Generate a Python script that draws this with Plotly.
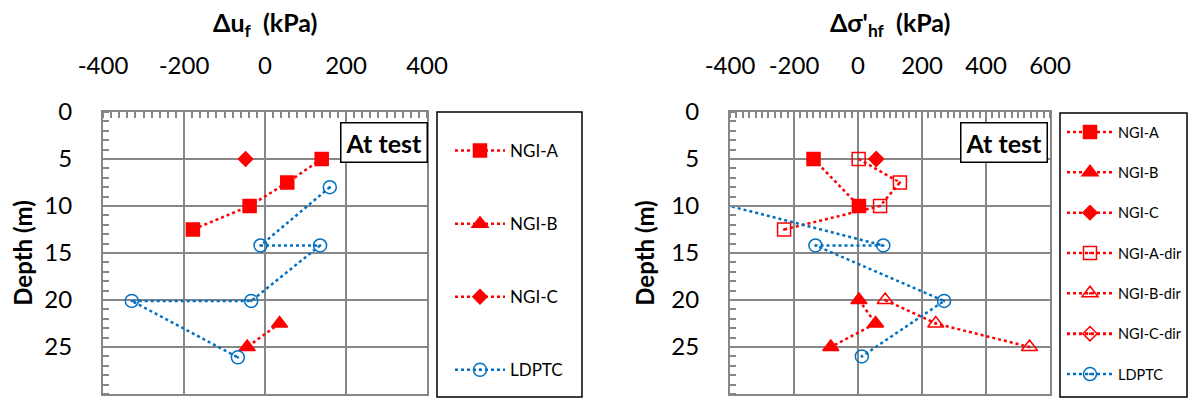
import plotly.graph_objects as go

# Datos (profundidad en m, presiones en kPa)
ngi_a_depth = [5, 7.5, 10, 12.5]
ngi_b_depth = [22.5, 25]
ngi_b_depth_s = [20, 22.5, 25]
ngi_c_depth = [5]
ldptc_depth_u = [8, 14.2, 14.2, 20.1, 20.1, 26.1]
ldptc_depth_s = [8, 14.2, 14.2, 20.1, 26]
ngi_a_dir_depth = [5, 7.5, 10, 12.5]
ngi_b_dir_depth = [20, 22.5, 25]

# Panel izquierdo: delta u_f
du_ngi_a = [140, 55, -38, -178]
du_ngi_b = [36, -44]
du_ngi_c = [-48]
du_ldptc = [160, -11, 136, -34, -329, -67]

# Panel derecho: delta sigma'_hf
ds_ngi_a = [-139, 3]
ds_ngi_a_depth = [5, 10]
ds_ngi_b = [3, 55, -85]
ds_ngi_c = [57]
ds_ngi_a_dir = [2, 131, 69, -231]
ds_ngi_b_dir = [85, 243, 536]
ds_ngi_c_dir = [57]
ds_ldptc = [-630, 79, -133, 269, 12]

# Ticks
u_ticks = [-400, -200, 0, 200, 400]
s_ticks = [-400, -200, 0, 200, 400, 600]
depth_ticks = [0, 5, 10, 15, 20, 25, 30]

RED = "#FF0000"
BLUE = "#0070C0"
GRID = "#878787"
FONT = "Lato"

# el body de la página tiene 8 px de margen: figura más pequeña para que quepa sin scroll
OFF = 8
W, H = 1196 - 2 * OFF, 406 - 2 * OFF


def fx(px):
    return (px - OFF) / W


def fy(py):
    return 1 - (py - OFF) / H


fig = go.Figure()


def serie(x, y, name, color, symbol, size, xa, ya, legend, width=2.5):
    fig.add_trace(go.Scatter(
        x=x, y=y, name=name, mode="lines+markers",
        xaxis=xa, yaxis=ya, legend=legend, legendgroup=legend + name,
        line=dict(color=color, width=width, dash="dot"),
        marker=dict(symbol=symbol, size=size, color=color,
                    line=dict(color=color, width=1.5)),
    ))


# Izquierda
serie(du_ngi_a, ngi_a_depth, "NGI-A", RED, "square", 13, "x", "y", "legend")
serie(du_ngi_b, ngi_b_depth, "NGI-B", RED, "triangle-up", 14, "x", "y", "legend")
serie(du_ngi_c, ngi_c_depth, "NGI-C", RED, "diamond", 11, "x", "y", "legend")
serie(du_ldptc, ldptc_depth_u, "LDPTC", BLUE, "circle-open-dot", 13, "x", "y", "legend")

# Derecha
serie(ds_ngi_a, ds_ngi_a_depth, "NGI-A", RED, "square", 13, "x2", "y2", "legend2")
serie(ds_ngi_b, ngi_b_depth_s, "NGI-B", RED, "triangle-up", 14, "x2", "y2", "legend2")
serie(ds_ngi_c, ngi_c_depth, "NGI-C", RED, "diamond", 11, "x2", "y2", "legend2")
serie(ds_ngi_a_dir, ngi_a_dir_depth, "NGI-A-dir", RED, "square-open-dot", 13, "x2", "y2", "legend2")
serie(ds_ngi_b_dir, ngi_b_dir_depth, "NGI-B-dir", RED, "triangle-up-open-dot", 14, "x2", "y2", "legend2")
serie(ds_ngi_c_dir, ngi_c_depth, "NGI-C-dir", RED, "diamond-open-dot", 11, "x2", "y2", "legend2", width=3)
serie(ds_ldptc, ldptc_depth_s, "LDPTC", BLUE, "circle-open-dot", 13, "x2", "y2", "legend2")

ydom = [fy(394), fy(112)]
tickfont = dict(family=FONT, size=24, color="black")

xcommon = dict(
    side="top", showgrid=True, gridcolor=GRID, gridwidth=1.5,
    showline=True, linecolor=GRID, linewidth=2, mirror=True, automargin=False,
    ticks="", minor=dict(dtick=20, ticks="inside", ticklen=6, tickcolor=GRID, tickwidth=1.5),
    tickfont=tickfont, ticklabelstandoff=26, zeroline=False,
)
ycommon = dict(
    range=[30, 0], tickvals=depth_ticks, ticktext=[str(v) for v in depth_ticks],
    showgrid=True, gridcolor=GRID, gridwidth=1.5,
    showline=True, linecolor=GRID, linewidth=2, mirror=True, automargin=False,
    ticks="", minor=dict(dtick=1, ticks="inside", ticklen=6, tickcolor=GRID, tickwidth=1.5),
    tickfont=tickfont, ticklabelstandoff=24,
    zeroline=False, domain=ydom,
    title=dict(text="<b>Depth (m)</b>", font=dict(family=FONT, size=24, color="black"), standoff=10),
)

fig.update_layout(
    width=W, height=H, margin=dict(l=0, r=0, t=0, b=0),
    plot_bgcolor="white", paper_bgcolor="white",
    font=dict(family=FONT, color="black"),
    xaxis=dict(xcommon, range=[-400, 400], domain=[fx(103), fx(427)], anchor="y",
               tickvals=u_ticks, ticktext=[str(v) for v in u_ticks]),
    yaxis=dict(ycommon, anchor="x"),
    xaxis2=dict(xcommon, range=[-400, 600], domain=[fx(730), fx(1050)], anchor="y2",
                tickvals=s_ticks, ticktext=[str(v) for v in s_ticks]),
    yaxis2=dict(ycommon, anchor="x2"),
    legend=dict(x=fx(450), y=fy(133), xanchor="left", yanchor="top", itemwidth=50,
                font=dict(family=FONT, size=17, color="black"), tracegroupgap=48,
                bgcolor="rgba(0,0,0,0)"),
    legend2=dict(x=fx(1062), y=fy(116), xanchor="left", yanchor="top", itemwidth=46,
                 font=dict(family=FONT, size=14.5, color="black"), tracegroupgap=18.5,
                 bgcolor="rgba(0,0,0,0)"),
    showlegend=True,
)

# Títulos de los ejes x (arriba)
for xc, txt in [((103 + 427) / 2, "<b>Δu<sub>f</sub>\u00a0 (kPa)</b>"),
                ((730 + 1050) / 2, "<b>Δσ'<sub>hf</sub>\u00a0 (kPa)</b>")]:
    fig.add_annotation(x=fx(xc), y=fy(24), xref="paper", yref="paper",
                       xanchor="center", yanchor="middle", showarrow=False,
                       text=txt, font=dict(family=FONT, size=25, color="black"))

# Cajas de leyenda
fig.add_shape(type="rect", xref="paper", yref="paper",
              x0=fx(437), x1=fx(582), y0=fy(397), y1=fy(112),
              line=dict(color="black", width=1.5))
fig.add_shape(type="rect", xref="paper", yref="paper",
              x0=fx(1060), x1=fx(1187), y0=fy(397), y1=fy(113),
              line=dict(color="black", width=1.5))

# Etiquetas "At test"
for xr in [428, 1048]:
    fig.add_annotation(
        x=fx(xr), y=fy(122), xref="paper", yref="paper",
        xanchor="right", yanchor="top", showarrow=False,
        text="<b>At test</b>", font=dict(family=FONT, size=25, color="black"),
        bgcolor="white", bordercolor="black", borderwidth=1.5, borderpad=4,
    )

fig.write_html("out.html")
